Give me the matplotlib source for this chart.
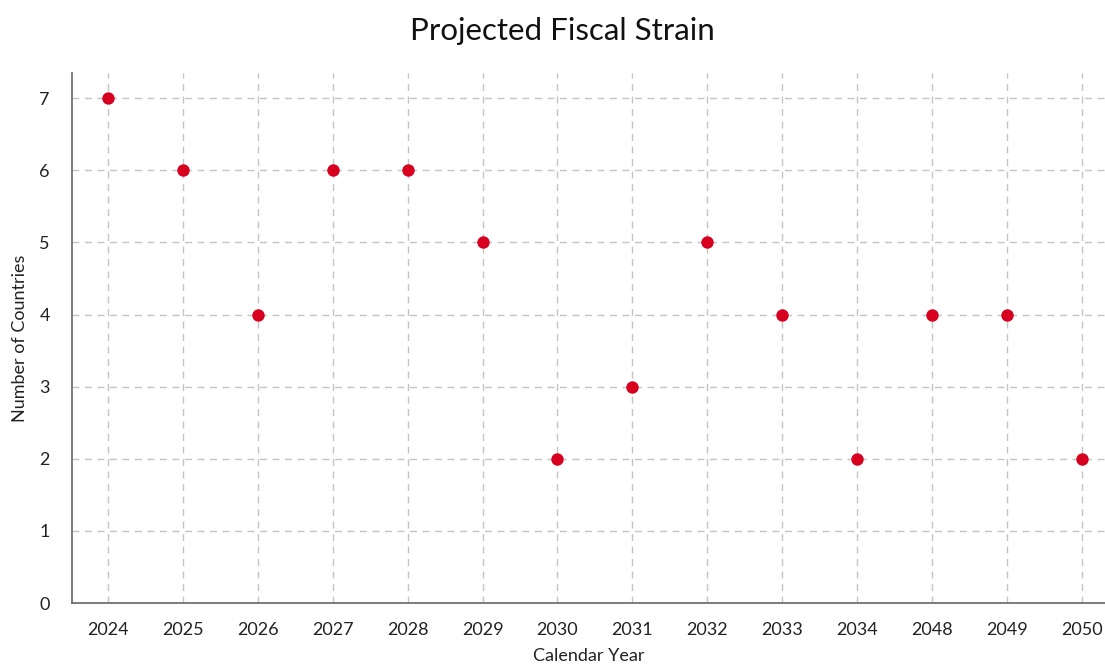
import matplotlib
matplotlib.use('Agg')
import matplotlib.pyplot as plt

plt.rcParams['font.family'] = ['Lato', 'DejaVu Sans']

# data
years = ['2024', '2025', '2026', '2027', '2028', '2029', '2030',
         '2031', '2032', '2033', '2034', '2048', '2049', '2050']
countries = [7, 6, 4, 6, 6, 5, 2, 3, 5, 4, 2, 4, 4, 2]

fig = plt.figure(figsize=(11.05, 6.68), dpi=100)
ax = fig.add_axes([0.0652, 0.0973, 0.9348, 0.7934])

x = list(range(len(years)))
ax.scatter(x, countries, s=80, color='#d7001f', zorder=3, linewidths=0)

ax.set_xticks(x)
ax.set_xticklabels(years)
ax.set_yticks(range(0, 8))
ax.set_xlim(-0.48, 13.31)
ax.set_ylim(0, 7.35)

ax.grid(True, linestyle=(0, (5, 4)), color='#c4c4c4', linewidth=1)
ax.set_axisbelow(True)
ax.tick_params(length=0, labelsize=13, colors='#222222', pad=14)
ax.tick_params(axis='y', pad=16)

for side in ['top', 'right']:
    ax.spines[side].set_visible(False)
for side in ['left', 'bottom']:
    ax.spines[side].set_color('#666666')
    ax.spines[side].set_linewidth(1.2)

ax.set_xlabel('Calendar Year', fontsize=13, color='#222222', labelpad=7)
ax.set_ylabel('Number of Countries', fontsize=13, color='#222222', labelpad=8)
fig.suptitle('Projected Fiscal Strain', fontsize=22.5, color='#111111',
             x=0.509, y=0.975)

fig.savefig('out.png', dpi=100)
